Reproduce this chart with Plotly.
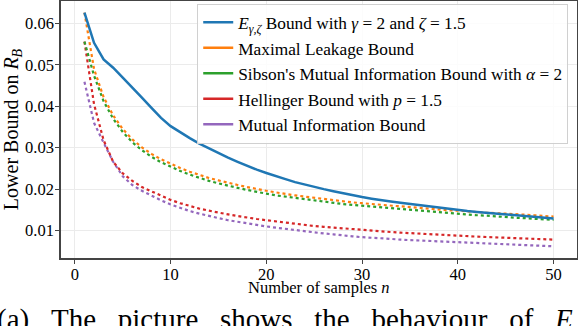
import plotly.graph_objects as go

n_samples = list(range(1, 51))

e_gamma_zeta = [
    0.0626, 0.0553, 0.0513, 0.0493, 0.0469, 0.0446, 0.0421, 0.0396, 0.0372, 0.0352,
    0.0337, 0.0323, 0.0310, 0.0298, 0.0287, 0.0276, 0.0266, 0.0256, 0.0247, 0.0239,
    0.0231, 0.0224, 0.0217, 0.0211, 0.0205, 0.0200, 0.0195, 0.0190, 0.0185, 0.0181,
    0.0177, 0.0173, 0.0170, 0.0167, 0.0164, 0.0161, 0.0158, 0.0155, 0.0152, 0.0149,
    0.0147, 0.0145, 0.0143, 0.0140, 0.0138, 0.0136, 0.0134, 0.0132, 0.0130, 0.0129,
]
maximal_leakage = [
    0.0626, 0.0490, 0.0422, 0.0378, 0.0345, 0.0320, 0.0301, 0.0285, 0.0272, 0.0261,
    0.0251, 0.0242, 0.0234, 0.0227, 0.0221, 0.0215, 0.0210, 0.0205, 0.0200, 0.0196,
    0.0192, 0.0188, 0.0185, 0.0182, 0.0179, 0.0176, 0.0173, 0.0171, 0.0168, 0.0166,
    0.0164, 0.0162, 0.0160, 0.0158, 0.0156, 0.0154, 0.0153, 0.0151, 0.0149, 0.0148,
    0.0146, 0.0145, 0.0143, 0.0142, 0.0141, 0.0139, 0.0138, 0.0137, 0.0135, 0.0134,
]
sibson_mi = [
    0.0556, 0.0474, 0.0412, 0.0370, 0.0338, 0.0313, 0.0294, 0.0278, 0.0265, 0.0254,
    0.0244, 0.0235, 0.0227, 0.0220, 0.0214, 0.0208, 0.0203, 0.0198, 0.0193, 0.0189,
    0.0185, 0.0182, 0.0178, 0.0175, 0.0172, 0.0169, 0.0167, 0.0164, 0.0162, 0.0160,
    0.0158, 0.0156, 0.0154, 0.0152, 0.0150, 0.0148, 0.0146, 0.0145, 0.0143, 0.0141,
    0.0139, 0.0137, 0.0136, 0.0134, 0.0133, 0.0131, 0.0130, 0.0128, 0.0127, 0.0126,
]
hellinger = [
    0.0556, 0.0405, 0.0318, 0.0266, 0.0238, 0.0220, 0.0205, 0.0194, 0.0183, 0.0174,
    0.0166, 0.0159, 0.0153, 0.0148, 0.0143, 0.0139, 0.0135, 0.0131, 0.0128, 0.0125,
    0.0122, 0.0119, 0.0116, 0.0114, 0.0111, 0.0109, 0.0107, 0.0105, 0.0103, 0.0101,
    0.00995, 0.0098, 0.00965, 0.0095, 0.00936, 0.00922, 0.0091, 0.00897, 0.00886, 0.00875,
    0.00864, 0.00854, 0.00844, 0.00834, 0.00825, 0.00816, 0.00807, 0.00798, 0.0079, 0.00782,
]
mutual_info = [
    0.0459, 0.0360, 0.0312, 0.0266, 0.0231, 0.0210, 0.0196, 0.0184, 0.0173, 0.0163,
    0.0155, 0.0147, 0.0141, 0.0135, 0.0130, 0.0125, 0.0121, 0.0117, 0.0113, 0.0110,
    0.0107, 0.0104, 0.0101, 0.0098, 0.0095, 0.0093, 0.0091, 0.0088, 0.0086, 0.0084,
    0.0083, 0.0081, 0.0080, 0.0078, 0.0077, 0.0076, 0.0074, 0.0073, 0.0072, 0.0071,
    0.0070, 0.0069, 0.0068, 0.0067, 0.0066, 0.0065, 0.0064, 0.0063, 0.0063, 0.0062,
]

series_names = [
    "<i>E</i><sub><i>γ,ζ</i></sub> Bound with <i>γ</i> = 2 and <i>ζ</i> = 1.5",
    "Maximal Leakage Bound",
    "Sibson's Mutual Information Bound with <i>α</i> = 2",
    "Hellinger Bound with <i>p</i> = 1.5",
    "Mutual Information Bound",
]
series_values = [e_gamma_zeta, maximal_leakage, sibson_mi, hellinger, mutual_info]
colors = ['#1f77b4', '#ff7f0e', '#2ca02c', '#d62728', '#9467bd']
dashes = ['solid', 'dot', 'dot', 'dot', 'dot']

x_ticks = [0, 10, 20, 30, 40, 50]
y_ticks = [0.01, 0.02, 0.03, 0.04, 0.05, 0.06]

caption_words = ["(a)", "The", "picture", "shows", "the", "behaviour", "of", "<i>E</i>"]

FONT = "Liberation Serif"
NB = "\u00a0"

fig = go.Figure()

# dotted curves drawn back to front, blue solid on top
for name, vals, col, dash in list(zip(series_names, series_values, colors, dashes))[::-1]:
    fig.add_trace(go.Scatter(
        x=n_samples, y=vals, mode='lines', showlegend=False,
        line=dict(color=col, width=2.5 if dash == 'solid' else 2.2, dash=dash),
    ))

# legend entries shown as solid lines
for name, col in zip(series_names, colors):
    fig.add_trace(go.Scatter(
        x=[None], y=[None], mode='lines', name=name,
        line=dict(color=col, width=2.5),
    ))

fig.update_layout(
    width=578, height=326,
    margin=dict(l=61, r=1, t=1, b=68, autoexpand=False),
    plot_bgcolor='white', paper_bgcolor='white',
    font=dict(family=FONT, size=16.5, color='black'),
    legend=dict(
        x=0.264, y=0.99, xanchor='left', yanchor='top',
        bgcolor='rgba(255,255,255,0.85)', bordercolor='#d0d0d0', borderwidth=1,
        font=dict(family=FONT, size=17.3),
    ),
    xaxis=dict(
        range=[-1.45, 52.45], tickvals=x_ticks, automargin=False,
        showgrid=True, gridcolor='#ebebeb', gridwidth=1, zeroline=False,
        showline=True, linecolor='#444', linewidth=1.5, mirror=True,
        ticks='outside', ticklen=4, tickcolor='#444', ticklabelstandoff=-4,
    ),
    yaxis=dict(
        range=[0.00338, 0.0654], tickvals=y_ticks, tickformat='.2f', automargin=False,
        showgrid=True, gridcolor='#ebebeb', gridwidth=1, zeroline=False,
        showline=True, linecolor='#444', linewidth=1.5, mirror=True,
        ticks='outside', ticklen=4, tickcolor='#444', ticklabelstandoff=-2,
        title=dict(text="Lower Bound on <i>R</i><sub><i>B</i></sub>", standoff=2),
    ),
    annotations=[
        dict(
            text="Number of samples <i>n</i>",
            xref='paper', yref='paper', x=0.5, y=-0.116, xanchor='center', yanchor='middle',
            showarrow=False, font=dict(family=FONT, size=16.5),
        ),
        dict(
            text=(NB * 3).join(caption_words),
            xref='paper', yref='paper', x=-0.127, y=-0.167, xanchor='left', yanchor='top',
            showarrow=False, font=dict(family=FONT, size=29),
        ),
    ],
)

fig.write_html("out.html", config={'displayModeBar': False},
               post_script="document.body.style.margin='0';")
